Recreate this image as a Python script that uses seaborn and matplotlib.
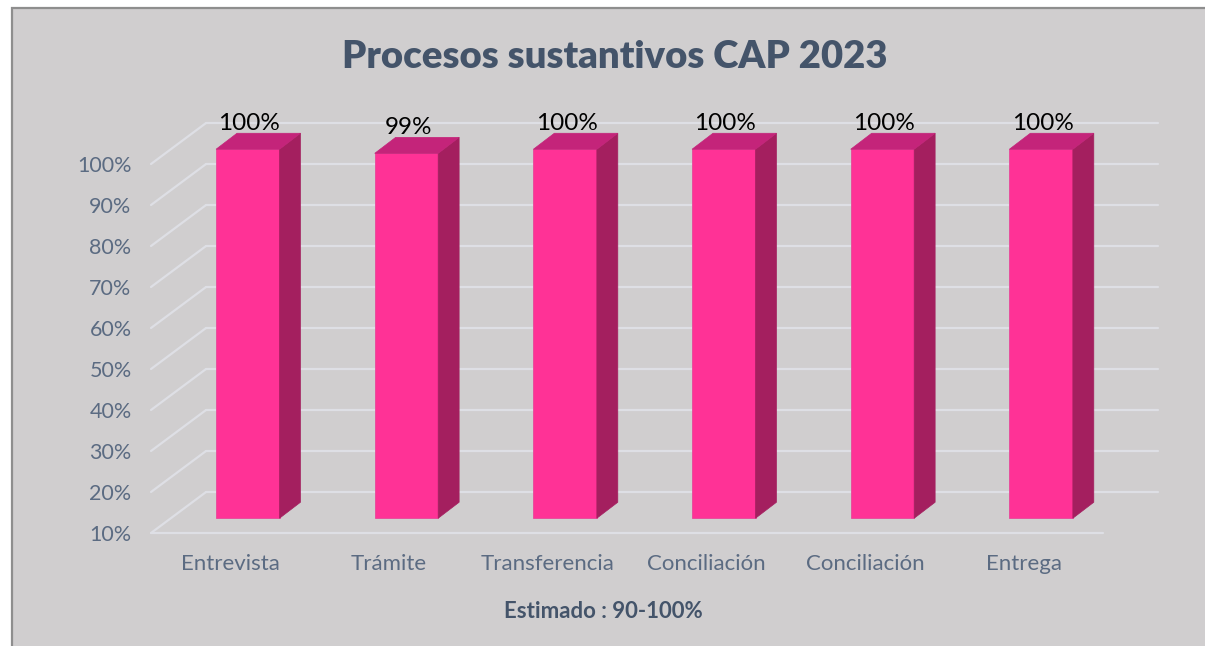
import numpy as np
import pandas as pd
import matplotlib
matplotlib.use("Agg")
import matplotlib.pyplot as plt
import seaborn as sns
from matplotlib.patches import Polygon, Rectangle

# --- data ---
categories = ["Entrevista", "Trámite", "Transferencia", "Conciliación", "Conciliación", "Entrega"]
values = [100, 99, 100, 100, 100, 100]
y_ticks = [10, 20, 30, 40, 50, 60, 70, 80, 90, 100]
title = "Procesos sustantivos CAP 2023"
footer = "Estimado : 90-100%"

# colours
BG = "#D0CECF"
GRID = "#DEDFE5"
FRONT = "#FF3296"
SIDE = "#A41F5F"
TOP = "#C4247A"
SLATE = "#5B6B82"
TITLE_C = "#44546A"

sns.set_theme(style="white")
plt.rcParams["font.family"] = ["Lato", "DejaVu Sans"]

fig = plt.figure(figsize=(12.05, 6.46), dpi=100)
fig.patch.set_facecolor("white")
fig.patches.append(Rectangle((12 / 1205, -0.01), 1.02, (646 - 8) / 646 + 0.01,
                             transform=fig.transFigure, facecolor=BG,
                             edgecolor="#8E8E8E", lw=1.6, zorder=-5))

# axes = front plane of the 3D box
ax = fig.add_axes([151 / 1205, (646 - 533) / 646, 952 / 1205, 369 / 646])
ax.set_facecolor("none")

df = pd.DataFrame({"slot": range(len(categories)), "value": values})
sns.barplot(data=df, x="slot", y="value", color=FRONT, width=0.40,
            saturation=1, ax=ax, zorder=3, edgecolor="#E8489A", linewidth=0.6)

ax.set_xlim(-0.5, len(categories) - 0.5)
ax.set_ylim(10, 100)

# depth offsets (data units)
wall_dx, wall_dy = 0.347, 10.0
bar_fx, bar_fy = 0.11, 3.6
bar_dx, bar_dy = 0.132, 3.9

x0, x1 = ax.get_xlim()
for v in y_ticks:
    ax.plot([x0 + wall_dx, x1 + wall_dx], [v + wall_dy, v + wall_dy],
            color=GRID, lw=1.6, clip_on=False, zorder=1)
    ax.plot([x0, x0 + wall_dx], [v, v + wall_dy],
            color=GRID, lw=1.6, clip_on=False, zorder=1)
ax.plot([x0, x1], [10, 10], color=GRID, lw=1.6, clip_on=False, zorder=1)

# turn the flat bars into 3D boxes
for patch, v in zip(ax.patches, values):
    bx = patch.get_x() + bar_fx
    w = patch.get_width()
    patch.set_x(bx)
    patch.set_y(10 + bar_fy)
    patch.set_height(v - 10)
    patch.set_clip_on(False)
    b0 = 10 + bar_fy
    b1 = v + bar_fy
    side = Polygon([(bx + w, b0), (bx + w + bar_dx, b0 + bar_dy),
                    (bx + w + bar_dx, b1 + bar_dy), (bx + w, b1)],
                   closed=True, facecolor=SIDE, edgecolor=SIDE, lw=0.5,
                   zorder=3, clip_on=False)
    top = Polygon([(bx, b1), (bx + bar_dx, b1 + bar_dy),
                   (bx + w + bar_dx, b1 + bar_dy), (bx + w, b1)],
                  closed=True, facecolor=TOP, edgecolor=TOP, lw=0.5,
                  zorder=3, clip_on=False)
    ax.add_patch(side)
    ax.add_patch(top)
    ax.text(bx + w / 2 + 0.01, b1 + bar_dy + 0.9, f"{v}%", ha="center",
            va="baseline", fontsize=17.5, color="black", zorder=5, clip_on=False)

ax.set_yticks(y_ticks)
ax.set_yticklabels([f"{t}%" for t in y_ticks], fontsize=15.5, color=SLATE)
ax.set_xticks(range(len(categories)))
ax.set_xticklabels(categories, fontsize=16, color=SLATE)
ax.tick_params(axis="y", length=0, pad=14)
ax.tick_params(axis="x", length=0, pad=15)
ax.set_xlabel("")
ax.set_ylabel("")
ax.grid(False)
for s in ax.spines.values():
    s.set_visible(False)

fig.text(615 / 1205, 1 - 57 / 646, title, ha="center", va="center",
         fontsize=27.5, fontweight="heavy", color=TITLE_C)
fig.text(603 / 1205, 1 - 612 / 646, footer, ha="center", va="center",
         fontsize=16, fontweight="bold", color=TITLE_C)

fig.savefig("out.png", dpi=100, facecolor=fig.get_facecolor())
